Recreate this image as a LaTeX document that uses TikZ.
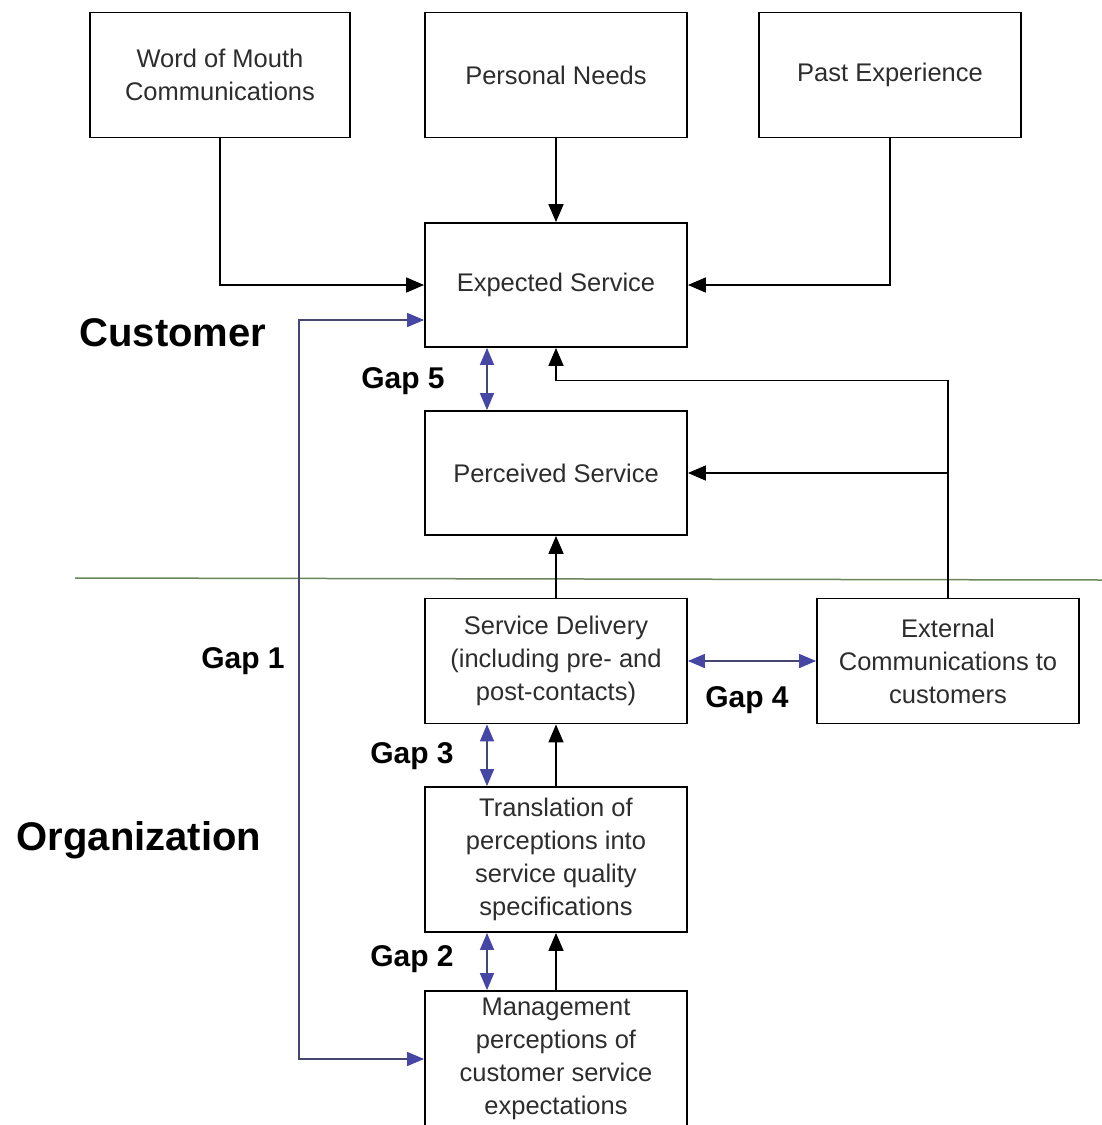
\documentclass[tikz,border=0pt]{standalone}
\usepackage{fontspec}
\setmainfont{Liberation Sans}
\usetikzlibrary{arrows.meta, calc}

\definecolor{gapblue}{RGB}{70,70,165}
\definecolor{gapline}{RGB}{70,70,110}
\definecolor{boundary}{RGB}{105,135,90}
\definecolor{boxtext}{RGB}{45,45,45}

\tikzset{
  box/.style={draw, line width=1.8pt, rectangle, minimum width=262pt, minimum height=125pt,
    inner sep=0pt, align=center, text=boxtext, font=\fontsize{25.5}{33}\selectfont},
  flow/.style={line width=1.6pt, -{Triangle[length=18pt, width=15pt]}},
  gaparrow/.style={line width=1.5pt, draw=gapline,
    {Triangle[length=17pt, width=14pt, color=gapblue]}-{Triangle[length=17pt, width=14pt, color=gapblue]}},
  gaplabel/.style={font=\bfseries\fontsize{30}{36}\selectfont},
  sidelabel/.style={font=\bfseries\fontsize{40}{48}\selectfont}
}

\begin{document}
\begin{tikzpicture}[x=1pt, y=-1pt]
    \clip (0,0) rectangle (1102,1125);
    \fill[white] (0,0) rectangle (1102,1125);

    % Ba nguon tao ky vong
    \node[box, minimum width=260pt] (wom) at (220,75) {Word of Mouth\\Communications};
    \node[box] (needs) at (556,75) {Personal Needs};
    \node[box] (past) at (890,75) {Past Experience};

    % Phia khach hang
    \node[box, minimum height=124pt] (expected) at (556,285) {Expected Service};
    \node[box, minimum height=124pt] (perceived) at (556,473) {Perceived Service};

    % Phia to chuc
    \node[box] (delivery) at (556,661) {Service Delivery\\(including pre- and\\post-contacts)};
    \node[box] (external) at (948,661) {External\\Communications to\\customers};
    \node[box, minimum height=145pt] (transl) at (556,859.5) {Translation of\\perceptions into\\service quality\\specifications};
    \node[box, minimum height=136pt] (mgmt) at (556,1059) {Management\\perceptions of\\customer service\\expectations};

    % Duong ranh gioi
    \draw[boundary, line width=1.5pt] (75,578) -- (1102,580);

    % Mui ten vao Expected Service
    \draw[flow] (wom.south) |- (expected.west);
    \draw[flow] (needs.south) -- (expected.north);
    \draw[flow] (past.south) |- (expected.east);

    % External Communications ve hai phia tren
    \coordinate (extturn) at ($(external.north)+(0,-217)$);
    \draw[flow] (external.north) -- (extturn) -| (expected.south);
    \draw[flow] (external.north |- perceived.east) -- (perceived.east);

    % Luong di len
    \draw[flow] (delivery.north) -- (perceived.south);
    \draw[flow] (transl.north) -- (delivery.south);
    \draw[flow] (mgmt.north) -- (transl.south);

    % Cac khoang cach (Gap)
    \coordinate (g1top) at ($(expected.west)+(0,35)$);
    \draw[gaparrow] (g1top) -- ++(-125,0) |- (mgmt.west);
    \draw[gaparrow] ($(expected.south)+(-69,0)$) -- ($(perceived.north)+(-69,0)$);
    \draw[gaparrow] (delivery.east) -- (external.west);
    \draw[gaparrow] ($(delivery.south)+(-69,0)$) -- ($(transl.north)+(-69,0)$);
    \draw[gaparrow] ($(transl.south)+(-69,0)$) -- ($(mgmt.north)+(-69,0)$);

    \node[gaplabel] (gap5) at (403,381) {Gap 5};
    \node[gaplabel] (gap1) at (243,661) {Gap 1};
    \node[gaplabel] (gap4) at (747,700) {Gap 4};
    \node[gaplabel] (gap3) at (412,756) {Gap 3};
    \node[gaplabel] (gap2) at (412,959) {Gap 2};

    % Nhan hai phia
    \node[sidelabel] (customer) at (173,333) {Customer};
    \node[sidelabel] (org) at (139,840) {Organization};
\end{tikzpicture}
\end{document}
